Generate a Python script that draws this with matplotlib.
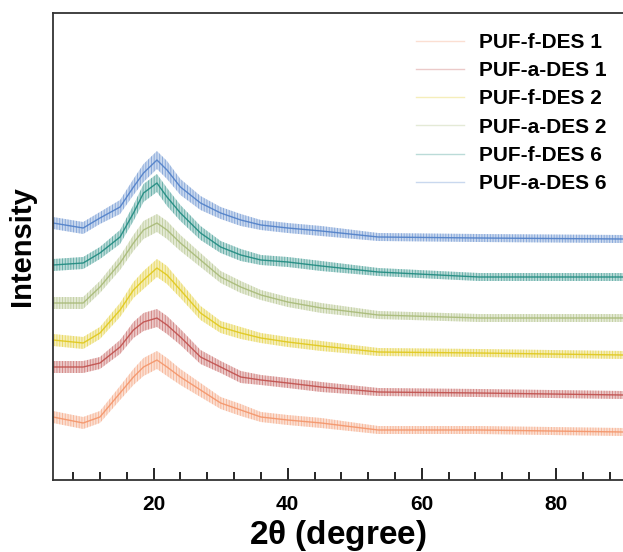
import matplotlib
matplotlib.use("Agg")
import matplotlib.pyplot as plt
from matplotlib.lines import Line2D
import numpy as np

# 2-theta positions (degree) where the patterns were read
two_theta = [5, 9.5, 12, 15, 17, 18.5, 20.5, 22, 24, 27, 30, 33, 36, 40, 45, 53.5, 68.5, 90]

# stacked intensities (arbitrary units, offsets included)
puf_f_des1 = [63, 57, 63, 87, 103, 113, 120, 113, 103, 90, 77, 70, 63, 60, 57, 50, 50, 48]
puf_a_des1 = [113, 113, 117, 133, 150, 158, 162, 155, 143, 123, 113, 103, 100, 97, 93, 88, 87, 85]
puf_f_des2 = [140, 137, 147, 170, 190, 200, 212, 205, 190, 167, 153, 147, 142, 138, 134, 128, 127, 125]
puf_a_des2 = [177, 177, 193, 217, 237, 250, 257, 250, 237, 220, 203, 193, 185, 178, 172, 165, 162, 162]
puf_f_des6 = [215, 217, 227, 243, 267, 287, 297, 283, 267, 247, 233, 225, 220, 218, 214, 208, 203, 203]
puf_a_des6 = [257, 252, 262, 273, 293, 307, 320, 310, 293, 277, 267, 260, 255, 252, 249, 243, 242, 241]

# half width of the noise band seen on the traces
noise = [6, 6, 6, 7, 8, 9, 9, 9, 8, 7, 6, 6, 5, 5, 5, 4, 4, 4]

labels = ["PUF-f-DES 1", "PUF-a-DES 1", "PUF-f-DES 2", "PUF-a-DES 2", "PUF-f-DES 6", "PUF-a-DES 6"]
series = [puf_f_des1, puf_a_des1, puf_f_des2, puf_a_des2, puf_f_des6, puf_a_des6]
colors = ["#f4956a", "#c0504d", "#e0c81c", "#a8ba78", "#1f8a80", "#4f7fc8"]

plt.rcParams["font.family"] = ["Liberation Sans", "DejaVu Sans"]
plt.rcParams["font.weight"] = "bold"
plt.rcParams["hatch.linewidth"] = 0.6

fig = plt.figure(figsize=(6.23, 5.52), dpi=100)
ax = fig.add_axes([53 / 623, 72 / 552, 570 / 623, 467 / 552])

x = np.array(two_theta)
nz = np.array(noise)
for y, c in zip(series, colors):
    y = np.array(y)
    ax.fill_between(x, y - nz, y + nz, facecolor=c, alpha=0.3, lw=0)
    ax.fill_between(x, y - nz, y + nz, facecolor="none", edgecolor=c, hatch="||||||", lw=0, alpha=0.6)
    ax.plot(x, y, color=c, lw=1.0, alpha=0.9)

ax.set_xlim(5, 90)
ax.set_ylim(0, 467)
ax.set_yticks([])
ax.set_xticks([20, 40, 60, 80])
ax.set_xticks(np.arange(8, 90, 4), minor=True)
ax.tick_params(axis="x", which="major", direction="in", length=9, width=1.2, labelsize=15, pad=11)
ax.tick_params(axis="x", which="minor", direction="in", length=6, width=1.2)
for lab in ax.get_xticklabels():
    lab.set_fontweight("bold")
for s in ["left", "bottom", "top"]:
    ax.spines[s].set_linewidth(1.3)
    ax.spines[s].set_color("#333333")
ax.spines["right"].set_visible(False)

ax.set_xlabel(r"2$\mathregular{\theta}$ (degree)", fontsize=24, fontweight="bold", labelpad=3)
ax.set_ylabel("Intensity", fontsize=21, fontweight="bold", labelpad=12)

handles = [Line2D([], [], color=c, lw=1.0, alpha=0.3) for c in colors]
ax.legend(handles, labels, loc="upper right", bbox_to_anchor=(1.004, 0.997), frameon=False,
          prop={"size": 15, "weight": "bold"}, handlelength=2.3, handletextpad=0.7,
          labelspacing=0.44)

fig.savefig("out.png", dpi=100)
